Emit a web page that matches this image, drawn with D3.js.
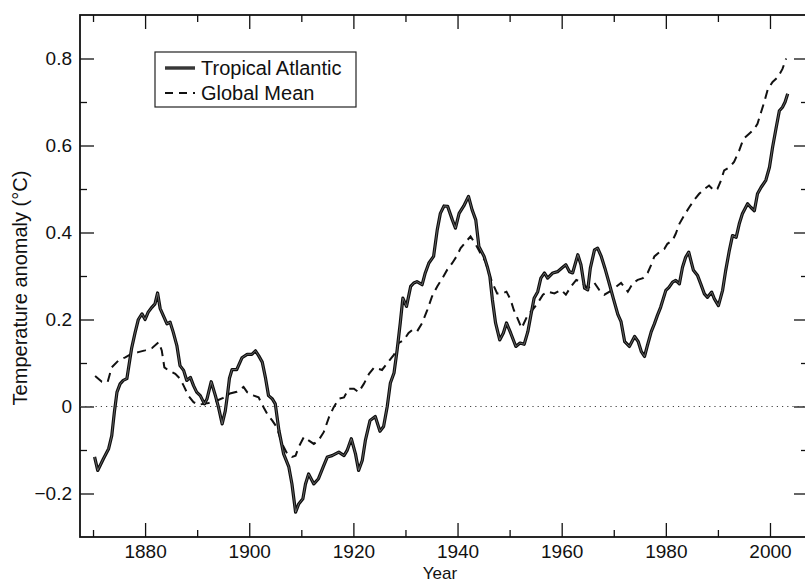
<!DOCTYPE html>
<html lang="en">
<head>
    <meta charset="UTF-8">
    <title>Tropical Atlantic vs Global Mean</title>
    <style>
        body {
            margin: 0;
            background: #fff;
        }
        svg {
            display: block;
            font-family: 'Liberation Sans', Arial, Helvetica, sans-serif;
        }
    </style>
</head>
<body>
    <svg id="chart" width="805" height="583"></svg>

    <script src="https://d3js.org/d3.v7.min.js"></script>
    <script>
        // Tropical Atlantic anomaly
        const taYears = [1870.3, 1870.9, 1872.0, 1873.0, 1873.6, 1874.1, 1874.6, 1875.2, 1875.8, 1876.5, 1876.8, 1877.4, 1878.1, 1878.7, 1879.4,
            1880.0, 1880.6, 1881.3, 1881.9, 1882.4, 1882.9, 1883.5, 1884.2, 1884.8, 1885.4, 1886.1, 1886.7, 1887.4, 1888.0, 1888.7, 1889.3, 1889.9,
            1890.6, 1891.4, 1891.9, 1892.7, 1893.5, 1894.1, 1894.8, 1895.4, 1895.8, 1896.2, 1896.7, 1897.6, 1898.6, 1899.6,
            1900.5, 1901.2, 1901.8, 1902.5, 1903.1, 1903.7, 1904.4, 1905.0, 1905.7, 1906.6, 1907.6, 1908.2, 1908.9, 1909.5,
            1910.3, 1910.8, 1911.4, 1912.4, 1913.3, 1914.3, 1915.0, 1915.9, 1917.2, 1918.2, 1918.8, 1919.6,
            1920.4, 1921.0, 1921.7, 1922.3, 1923.2, 1924.2, 1925.1, 1925.8, 1926.5, 1927.1, 1927.8, 1928.4, 1929.0, 1929.5,
            1930.2, 1931.0, 1931.6, 1932.2, 1933.2, 1933.8, 1934.5, 1935.4, 1936.1, 1936.7, 1937.4, 1938.1, 1939.0, 1939.6,
            1940.3, 1941.2, 1942.1, 1942.8, 1943.5, 1944.1, 1945.1, 1945.7, 1946.2, 1946.7, 1947.3, 1948.1, 1948.8, 1949.4,
            1950.2, 1951.2, 1952.0, 1952.8, 1953.5, 1954.1, 1954.7, 1955.4, 1956.0, 1956.7, 1957.3, 1958.3, 1959.2,
            1960.2, 1960.8, 1961.5, 1962.1, 1963.1, 1963.7, 1964.4, 1965.0, 1965.5, 1966.3, 1966.9, 1967.6, 1968.3, 1969.2, 1969.9,
            1970.8, 1971.4, 1972.1, 1973.0, 1974.0, 1974.7, 1975.3, 1975.9, 1976.5, 1977.2, 1977.8, 1978.4, 1979.0,
            1980.0, 1980.6, 1981.3, 1981.9, 1982.6, 1983.2, 1983.8, 1984.4, 1984.8, 1985.3, 1986.1, 1986.7, 1987.4, 1988.0, 1988.8, 1989.3,
            1990.1, 1990.9, 1991.5, 1992.2, 1992.8, 1993.5, 1994.1, 1994.7, 1995.7, 1996.3, 1997.0, 1997.6, 1998.3, 1999.2, 1999.9,
            2000.5, 2001.2, 2001.8, 2002.4, 2002.9, 2003.4];
        const taValues = [-0.116, -0.147, -0.12, -0.097, -0.067, -0.013, 0.033, 0.052, 0.06, 0.064, 0.087, 0.133, 0.171, 0.2, 0.213,
            0.2, 0.217, 0.228, 0.236, 0.261, 0.225, 0.209, 0.19, 0.194, 0.171, 0.14, 0.094, 0.083, 0.06, 0.067, 0.048, 0.033,
            0.025, 0.006, 0.018, 0.057, 0.025, -0.002, -0.04, -0.01, 0.025, 0.065, 0.085, 0.085, 0.112, 0.12,
            0.12, 0.128, 0.117, 0.102, 0.067, 0.025, 0.018, 0.006, -0.055, -0.109, -0.139, -0.178, -0.243, -0.224,
            -0.212, -0.178, -0.155, -0.178, -0.166, -0.136, -0.116, -0.113, -0.105, -0.113, -0.101, -0.074,
            -0.109, -0.147, -0.124, -0.078, -0.032, -0.023, -0.057, -0.046, 0, 0.054, 0.077, 0.13, 0.192, 0.249,
            0.23, 0.276, 0.284, 0.287, 0.28, 0.307, 0.33, 0.345, 0.406, 0.444, 0.461, 0.46, 0.429, 0.41,
            0.444, 0.461, 0.483, 0.452, 0.429, 0.368, 0.345, 0.322, 0.299, 0.245, 0.192, 0.153, 0.169, 0.192,
            0.169, 0.138, 0.146, 0.143, 0.172, 0.211, 0.249, 0.264, 0.295, 0.307, 0.295, 0.307, 0.31,
            0.32, 0.326, 0.31, 0.307, 0.349, 0.326, 0.272, 0.268, 0.318, 0.36, 0.364, 0.345, 0.318, 0.28, 0.249,
            0.211, 0.195, 0.149, 0.138, 0.161, 0.149, 0.126, 0.115, 0.142, 0.172, 0.19, 0.21, 0.228,
            0.267, 0.274, 0.286, 0.29, 0.282, 0.32, 0.343, 0.355, 0.336, 0.313, 0.301, 0.282, 0.259, 0.251, 0.263, 0.248,
            0.232, 0.267, 0.313, 0.359, 0.393, 0.389, 0.42, 0.443, 0.466, 0.458, 0.45, 0.489, 0.504, 0.52, 0.55,
            0.596, 0.642, 0.68, 0.688, 0.7, 0.719];

        // Global mean anomaly
        const gmYears = [1870.4, 1871.7, 1872.8, 1873.6, 1874.9, 1876.2, 1877.4, 1878.7, 1880.0, 1881.3, 1882.6, 1883.2, 1883.7, 1884.5, 1885.8, 1886.7, 1887.4, 1888.3, 1889.3,
            1890.3, 1891.2, 1892.2, 1893.5, 1895.0, 1896.3, 1897.6, 1898.9, 1899.6, 1900.9, 1901.8, 1902.8, 1903.5, 1904.4, 1905.3, 1906.3, 1907.3, 1908.2, 1908.9, 1909.5,
            1910.5, 1911.4, 1912.4, 1913.3, 1914.3, 1915.3, 1916.2, 1917.2, 1918.2, 1919.1, 1920.1, 1921.0, 1922.0, 1923.0, 1924.0, 1925.5, 1926.5, 1927.8, 1928.7, 1929.7,
            1930.6, 1931.3, 1932.2, 1933.2, 1934.2, 1935.1, 1936.1, 1937.1, 1938.0, 1939.0, 1939.8, 1940.6, 1941.5, 1942.5, 1943.5, 1944.4, 1945.4, 1946.0, 1946.7, 1947.6, 1948.6, 1949.4,
            1950.2, 1950.8, 1951.5, 1952.3, 1953.5, 1954.4, 1955.4, 1956.4, 1957.3, 1958.6, 1959.9, 1960.8, 1961.8, 1962.8, 1963.7, 1965.0, 1966.3, 1967.2, 1968.2, 1969.2,
            1970.1, 1971.4, 1972.7, 1973.7, 1974.6, 1975.6, 1976.5, 1977.2, 1977.8, 1978.8, 1979.7, 1980.3, 1981.3, 1981.9, 1982.6, 1983.5, 1984.5, 1985.4, 1986.4, 1987.4, 1988.3, 1989.2, 1989.9,
            1990.6, 1991.2, 1992.2, 1993.1, 1994.1, 1994.9, 1996.0, 1997.0, 1997.6, 1998.3, 1998.9, 1999.6, 2000.5, 2001.5, 2002.4, 2003.1];
        const gmValues = [0.07, 0.057, 0.056, 0.09, 0.106, 0.113, 0.121, 0.125, 0.129, 0.134, 0.148, 0.129, 0.09, 0.083, 0.075, 0.064, 0.048, 0.025, 0.01,
            0.004, 0.006, 0.008, 0.012, 0.02, 0.03, 0.034, 0.045, 0.033, 0.025, 0.021, -0.003, -0.018, -0.032, -0.048, -0.086, -0.109, -0.116, -0.113, -0.093,
            -0.07, -0.078, -0.086, -0.078, -0.059, -0.025, -0.002, 0.018, 0.021, 0.041, 0.041, 0.033, 0.052, 0.075, 0.09, 0.084, 0.1, 0.119, 0.146, 0.153,
            0.169, 0.176, 0.172, 0.192, 0.222, 0.253, 0.276, 0.295, 0.314, 0.33, 0.345, 0.364, 0.377, 0.391, 0.372, 0.352, 0.333, 0.307, 0.284, 0.26, 0.26, 0.264,
            0.245, 0.222, 0.203, 0.18, 0.211, 0.222, 0.238, 0.257, 0.264, 0.26, 0.268, 0.257, 0.276, 0.291, 0.287, 0.272, 0.284, 0.268, 0.257, 0.264,
            0.272, 0.284, 0.264, 0.284, 0.291, 0.295, 0.307, 0.326, 0.345, 0.355, 0.362, 0.374, 0.382, 0.397, 0.42, 0.439, 0.458, 0.474, 0.489, 0.5, 0.508, 0.497, 0.5,
            0.52, 0.543, 0.55, 0.562, 0.589, 0.615, 0.627, 0.638, 0.65, 0.677, 0.7, 0.73, 0.746, 0.757, 0.776, 0.8];

        const xMajorTicks = [1880, 1900, 1920, 1940, 1960, 1980, 2000];
        const xMinorTicks = [1870, 1890, 1910, 1930, 1950, 1970, 1990];
        const yMajorTicks = [-0.2, 0, 0.2, 0.4, 0.6, 0.8];
        const yMinorTicks = [-0.1, 0.1, 0.3, 0.5, 0.7];

        const seriesNames = ["Tropical Atlantic", "Global Mean"];

        const svg = d3.select("#chart");
        const plotLeft = 80, plotRight = 808, plotTop = 15, plotBottom = 537;

        const x = d3.scaleLinear().domain([1867.5, 2007.3]).range([plotLeft, plotRight]);
        const y = d3.scaleLinear().domain([-0.3, 0.9]).range([plotBottom, plotTop]);

        const fmt = d => d === 0 ? "0" : d3.format(".1f")(d).replace("-", "\u2212");

        // axes, ticks pointing inward
        function styleAxis(g) {
            g.select(".domain").remove();
            g.selectAll(".tick line").attr("stroke", "#111").attr("stroke-width", 1.3);
            g.selectAll("text").attr("fill", "#111").attr("font-size", 19);
        }

        svg.append("g")
            .attr("transform", `translate(0,${plotBottom})`)
            .call(d3.axisBottom(x).tickValues(xMajorTicks).tickSize(-14).tickPadding(8).tickFormat(d3.format("d")))
            .call(styleAxis);
        svg.append("g")
            .attr("transform", `translate(0,${plotBottom})`)
            .call(d3.axisBottom(x).tickValues(xMinorTicks).tickSize(-7).tickFormat(""))
            .call(styleAxis);
        svg.append("g")
            .attr("transform", `translate(0,${plotTop})`)
            .call(d3.axisTop(x).tickValues(xMajorTicks).tickSize(-14).tickFormat(""))
            .call(styleAxis);
        svg.append("g")
            .attr("transform", `translate(0,${plotTop})`)
            .call(d3.axisTop(x).tickValues(xMinorTicks).tickSize(-7).tickFormat(""))
            .call(styleAxis);

        svg.append("g")
            .attr("transform", `translate(${plotLeft},0)`)
            .call(d3.axisLeft(y).tickValues(yMajorTicks).tickSize(-14).tickPadding(8).tickFormat(fmt))
            .call(styleAxis);
        svg.append("g")
            .attr("transform", `translate(${plotLeft},0)`)
            .call(d3.axisLeft(y).tickValues(yMinorTicks).tickSize(-7).tickFormat(""))
            .call(styleAxis);
        svg.append("g")
            .attr("transform", `translate(${plotRight},0)`)
            .call(d3.axisRight(y).tickValues(yMajorTicks).tickSize(-14).tickFormat(""))
            .call(styleAxis);
        svg.append("g")
            .attr("transform", `translate(${plotRight},0)`)
            .call(d3.axisRight(y).tickValues(yMinorTicks).tickSize(-7).tickFormat(""))
            .call(styleAxis);

        // frame
        svg.append("rect")
            .attr("x", plotLeft).attr("y", plotTop)
            .attr("width", plotRight - plotLeft).attr("height", plotBottom - plotTop)
            .attr("fill", "none")
            .attr("stroke", "#111")
            .attr("stroke-width", 1.8);

        // zero line
        svg.append("line")
            .attr("x1", plotLeft).attr("x2", plotRight)
            .attr("y1", y(0)).attr("y2", y(0))
            .attr("stroke", "#444")
            .attr("stroke-width", 1)
            .attr("stroke-dasharray", "1.2,4");

        // axis titles
        svg.append("text")
            .attr("x", (plotLeft + plotRight) / 2 - 4)
            .attr("y", 579)
            .attr("text-anchor", "middle")
            .attr("font-size", 17)
            .attr("fill", "#111")
            .text("Year");

        svg.append("text")
            .attr("transform", `translate(27,${(plotTop + plotBottom) / 2 + 12}) rotate(-90)`)
            .attr("text-anchor", "middle")
            .attr("font-size", 20)
            .attr("fill", "#111")
            .text("Temperature anomaly (\u00B0C)");

        const line = d3.line()
            .x(d => x(d[0]))
            .y(d => y(d[1]));

        const taData = taYears.map((yr, i) => [yr, taValues[i]]);
        const gmData = gmYears.map((yr, i) => [yr, gmValues[i]]);

        // global mean, dashed
        svg.append("path")
            .datum(gmData)
            .attr("d", line)
            .attr("fill", "none")
            .attr("stroke", "#111")
            .attr("stroke-width", 2)
            .attr("stroke-dasharray", "9,6");

        // tropical atlantic: dark line with a faint grey core
        svg.append("path")
            .datum(taData)
            .attr("d", line)
            .attr("fill", "none")
            .attr("stroke", "#0d0d0d")
            .attr("stroke-width", 3.2)
            .attr("stroke-linejoin", "round");
        svg.append("path")
            .datum(taData)
            .attr("d", line)
            .attr("fill", "none")
            .attr("stroke", "#9a9a9a")
            .attr("stroke-width", 0.6)
            .attr("stroke-linejoin", "round");

        // legend
        const legend = svg.append("g");
        legend.append("rect")
            .attr("x", 155).attr("y", 52)
            .attr("width", 201).attr("height", 55)
            .attr("fill", "#fff")
            .attr("stroke", "#222")
            .attr("stroke-width", 1.2);

        legend.append("line")
            .attr("x1", 165).attr("x2", 195).attr("y1", 68).attr("y2", 68)
            .attr("stroke", "#0d0d0d").attr("stroke-width", 3.2);
        legend.append("line")
            .attr("x1", 165).attr("x2", 195).attr("y1", 68).attr("y2", 68)
            .attr("stroke", "#9a9a9a").attr("stroke-width", 0.6);
        legend.append("line")
            .attr("x1", 165).attr("x2", 195).attr("y1", 93).attr("y2", 93)
            .attr("stroke", "#111").attr("stroke-width", 2)
            .attr("stroke-dasharray", "8,6");

        legend.selectAll("text.lab")
            .data(seriesNames)
            .enter().append("text")
            .attr("class", "lab")
            .attr("x", 201)
            .attr("y", (d, i) => 75 + i * 25)
            .attr("font-size", 20)
            .attr("fill", "#111")
            .text(d => d);
    </script>
</body>
</html>
